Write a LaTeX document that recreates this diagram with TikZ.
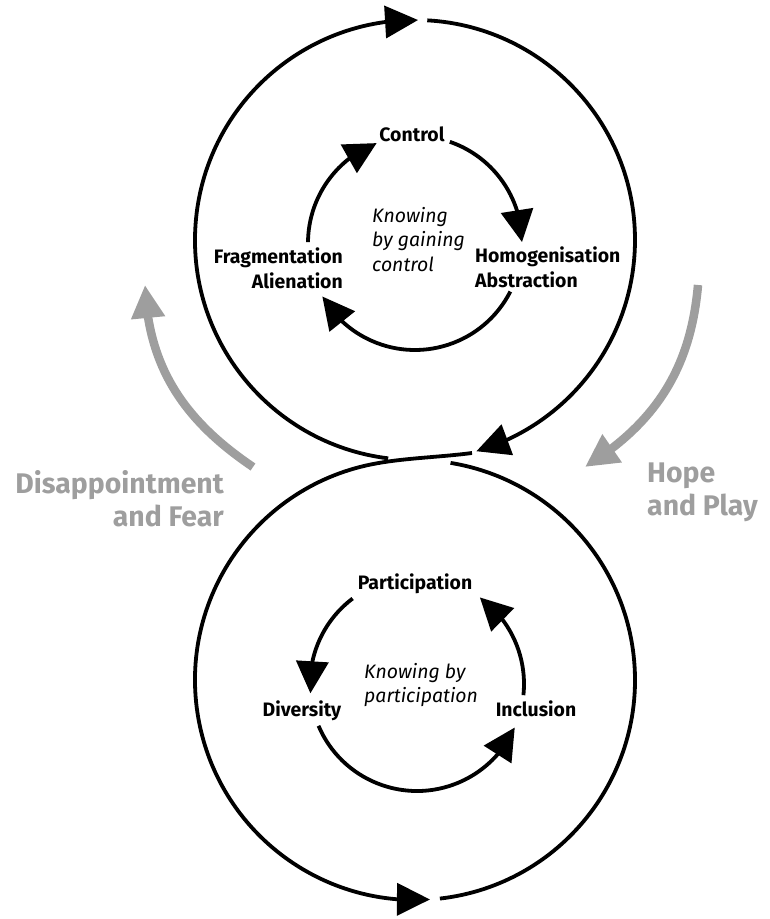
\documentclass[tikz,border=0pt]{standalone}
\usepackage{fontspec}
\setmainfont{Fira Sans}
\usetikzlibrary{arrows.meta,bending}
\definecolor{fadegray}{RGB}{158,158,158}
\def\bigr{220}
\def\smallr{107}

\begin{document}
\begin{tikzpicture}[x=1bp,y=1bp,
    ring/.style={draw=black,line width=3.8bp,>={Triangle[length=33bp,width=32bp]}},
    turn/.style={draw=black,line width=3.8bp,>={Triangle[length=32bp,width=32bp]}},
    drift/.style={draw=fadegray,line width=8.5bp,>={Triangle[length=33bp,width=32bp]}},
    lbl/.style={font=\fontsize{19.5}{25}\selectfont\bfseries,inner sep=0pt},
    idea/.style={font=\fontsize{19.5}{24.5}\selectfont\itshape,inner sep=0pt,align=left},
    mood/.style={font=\fontsize{28.5}{33}\selectfont\bfseries,text=fadegray,inner sep=0pt}]
    \useasboundingbox (0,0) rectangle (770,919);
    \coordinate (upper) at (415,679);
    \coordinate (lower) at (415,239);
    \coordinate (upin) at (415,676);
    \coordinate (lowin) at (417,235);
    \coordinate (handover) at (472,466);

    % figure of eight
    \draw[ring,->] ([shift=(86.8:\bigr)]upper) arc[start angle=86.8,end angle=-73.8,radius=\bigr];
    \draw[ring,->] ([shift=(263:\bigr)]upper) arc[start angle=263,end angle=89.2,radius=\bigr];
    \draw[ring,->] (handover) .. controls (442,462) and (406,461) .. ([shift=(100:\bigr)]lower)
                   arc[start angle=100,end angle=273.9,radius=\bigr];
    \draw[ring] ([shift=(276.5:\bigr)]lower) arc[start angle=276.5,end angle=440.7,radius=\bigr];

    % upper cycle
    \node[lbl,anchor=base] (control) at (412,777) {Control};
    \node[lbl,anchor=north east,align=right] (fragment) at (343,671) {Fragmentation\\Alienation};
    \node[lbl,anchor=north west,align=left] (homog) at (475,672) {Homogenisation\\Abstraction};
    \node[idea,anchor=north west] (gaining) at (372,712) {Knowing\\by gaining\\control};
    \draw[turn,->] ([shift=(71:\smallr)]upin) arc[start angle=71,end angle=0.5,radius=\smallr];
    \draw[turn,->] ([shift=(-27:\smallr)]upin) arc[start angle=-27,end angle=-150,radius=\smallr];
    \draw[turn,->] ([shift=(179.5:\smallr)]upin) arc[start angle=179.5,end angle=111,radius=\smallr];

    % lower cycle
    \node[lbl,anchor=base] (particip) at (415,329) {Participation};
    \node[lbl,anchor=base] (divers) at (302,202) {Diversity};
    \node[lbl,anchor=base] (inclus) at (536,202) {Inclusion};
    \node[idea,anchor=north west] (byparticip) at (364,256) {Knowing by\\participation};
    \draw[turn,->] ([shift=(127:\smallr)]lowin) arc[start angle=127,end angle=185,radius=\smallr];
    \draw[turn,->] ([shift=(203:\smallr)]lowin) arc[start angle=203,end angle=336,radius=\smallr];
    \draw[turn,->] ([shift=(354:\smallr)]lowin) arc[start angle=354,end angle=414,radius=\smallr];

    % moods
    \coordinate (fearfoot) at (253,452);
    \coordinate (fearhead) at (145,634);
    \coordinate (hopefoot) at (698,634);
    \coordinate (hopehead) at (585,452);
    \draw[drift,->] (fearfoot) to[out=146,in=-88] (fearhead);
    \draw[drift,->] (hopefoot) to[out=-95,in=32] (hopehead);
    \node[mood,anchor=north east,align=right] (fear) at (224,449) {Disappointment\\and Fear};
    \node[mood,anchor=north west,align=left] (hope) at (647,456) {Hope\\and Play};
\end{tikzpicture}
\end{document}
